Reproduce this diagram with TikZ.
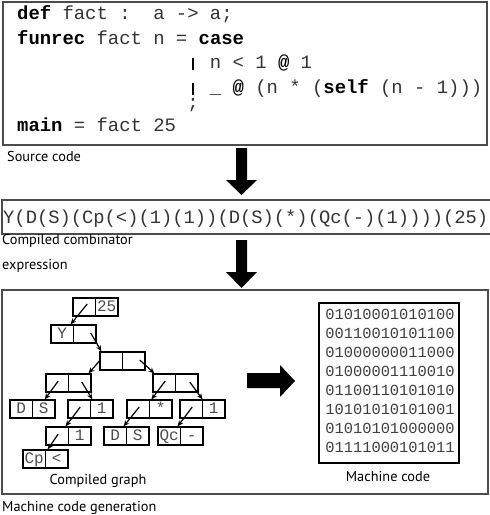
\documentclass[tikz,border=0pt]{standalone}
\usepackage{fontspec}
\setmainfont{PT Sans}
\setmonofont{Liberation Mono}
\usetikzlibrary{arrows.meta}
\newcommand{\cellpair}[5]{%
  \node[cell] (#1a) at (#2+11.25,#3+9) {#4};
  \node[cell] (#1b) at (#2+33.75,#3+9) {#5};}
\newcommand{\cbar}{\makebox[0.6em]{\color{black}\rule[-1.5pt]{2.2pt}{12pt}}}
\begin{document}
\begin{tikzpicture}[x=1pt,y=-1pt,
  cell/.style={draw=black, line width=1.2pt, minimum width=22.5pt, minimum height=18pt,
    inner sep=0pt, font=\fontsize{16}{16}\selectfont\ttfamily, text=black!70,
    text height=9.5pt, text depth=0pt},
  garrow/.style={line width=1.2pt, -{Stealth[length=6pt,width=5pt]}},
  box/.style={draw=black!70, line width=1.5pt, inner sep=0pt},
  lbl/.style={font=\fontsize{14.3}{14.3}\selectfont, inner sep=0pt},
  code/.style={font=\fontsize{18.9}{18.9}\selectfont\ttfamily, inner sep=0pt, text=black!80},
  bin/.style={font=\fontsize{15.4}{15.4}\selectfont\ttfamily, inner sep=0pt, text=black!75},
  blockarrow/.style={fill=black}]
\useasboundingbox (0,0) rectangle (490,515);

% boxes
\node[box, minimum width=484pt, minimum height=143pt] (src) at (245,73.5) {};
\node[box, minimum width=493pt, minimum height=34pt] (expr) at (248.5,217) {};
\node[box, minimum width=486pt, minimum height=204pt] (gen) at (245,392) {};
\node[draw=black, line width=1.3pt, minimum width=140pt, minimum height=160pt, inner sep=0pt] (mc) at (389,383) {};

% source code
\node[code, anchor=base west] (l1) at (17,19) {\textbf{\color{black}def} fact :\ \ a -> a;};
\node[code, anchor=base west] (l2) at (17,44) {\textbf{\color{black}funrec} fact n = \textbf{\color{black}case}};
\node[code, anchor=base west] (l3) at (187.1,68) {\cbar{} n < 1 \textbf{\color{black}@} 1};
\node[code, anchor=base west] (l4) at (187.1,93) {\cbar{} \_ \textbf{\color{black}@} (n * (\textbf{\color{black}self} (n - 1)))};
\node[code, anchor=base west] (l5) at (187.1,108) {;};
\node[code, anchor=base west] (l6) at (17,131) {\textbf{\color{black}main} = fact 25};
\node[lbl, anchor=base west] (srclbl) at (7,161.7) {Source code};

% expression
\node[code, font=\fontsize{18.8}{18.8}\selectfont\ttfamily, anchor=base west] (ex) at (3,223) {Y(D(S)(Cp(<)(1)(1))(D(S)(*)(Qc(-)(1))))(25)};
\node[lbl, anchor=base west] (exl1) at (2,244) {Compiled combinator};
\node[lbl, anchor=base west] (exl2) at (2,269) {expression};

% block arrows
\fill[blockarrow] (236,148) -- (247,148) -- (247,180) -- (257,180) -- (241.5,195) -- (226,180) -- (236,180) -- cycle;
\fill[blockarrow] (236,240) -- (247,240) -- (247,272) -- (257,272) -- (241.5,288) -- (226,272) -- (236,272) -- cycle;
\fill[blockarrow] (247,373) -- (280,373) -- (280,365) -- (295,381) -- (280,397) -- (280,388) -- (247,388) -- cycle;

% graph
\cellpair{p0}{73}{298}{}{25}
\cellpair{p1}{51}{325}{Y}{}
\cellpair{p2}{100}{352}{}{}
\cellpair{q1}{46}{374}{}{}
\cellpair{q2}{153}{374}{}{}
\cellpair{r1}{10}{400}{D}{S}
\cellpair{r2}{68}{400}{}{1}
\cellpair{r3}{127}{400}{}{*}
\cellpair{r4}{180}{400}{}{1}
\cellpair{s1}{46}{427}{}{1}
\cellpair{s2}{104}{427}{D}{S}
\cellpair{s3}{158}{427}{Qc}{-}
\cellpair{t1}{23}{450}{Cp}{<}

\draw[garrow] ([shift={(3,-3)}]p0a.center) -- ([shift={(-3.5,0)}]p1a.north east);
\draw[garrow] ([shift={(6,-1)}]p1b.center) -- ([shift={(2,0)}]p2a.north west);
\draw[garrow] (p2a.west) -- ([shift={(-3,0)}]q1b.north east);
\draw[garrow] ([shift={(6,-1)}]p2b.center) -- ([shift={(2,0)}]q2a.north west);
\draw[garrow] ([shift={(1,-2)}]q1a.center) -- ([shift={(1,0)}]r1b.north);
\draw[garrow] ([shift={(2,-1)}]q1b.center) -- ([shift={(2.5,0)}]r2b.north west);
\draw[garrow] ([shift={(1,-2)}]q2a.center) -- ([shift={(2.5,0)}]r3b.north west);
\draw[garrow] ([shift={(3,-1)}]q2b.center) -- ([shift={(-0.5,0)}]r4a.north east);
\draw[garrow] ([shift={(1,-2)}]r2a.center) -- ([shift={(-3.5,0)}]s1a.north east);
\draw[garrow] ([shift={(1,-2)}]r3a.center) -- ([shift={(-3.5,0)}]s2a.north east);
\draw[garrow] ([shift={(1,-2)}]r4a.center) -- ([shift={(-3.5,0)}]s3a.north east);
\draw[garrow] ([shift={(1,-2)}]s1a.center) -- ([shift={(1.5,0)}]t1a.north east);

\node[lbl, anchor=base] (cgl) at (98,484) {Compiled graph};

% machine code
\foreach \t [count=\i from 0] in {01010001010100,00110010101100,01000000011000,01000001110010,01100110101010,10101010101001,01010101000000,01111000101011}
  \node[bin, anchor=base] (b\i) at (390,319.5+19*\i) {\t};
\node[lbl, anchor=base] (mcl) at (388,481) {Machine code};
\node[lbl, anchor=base west] (genl) at (2,511) {Machine code generation};
\end{tikzpicture}
\end{document}
